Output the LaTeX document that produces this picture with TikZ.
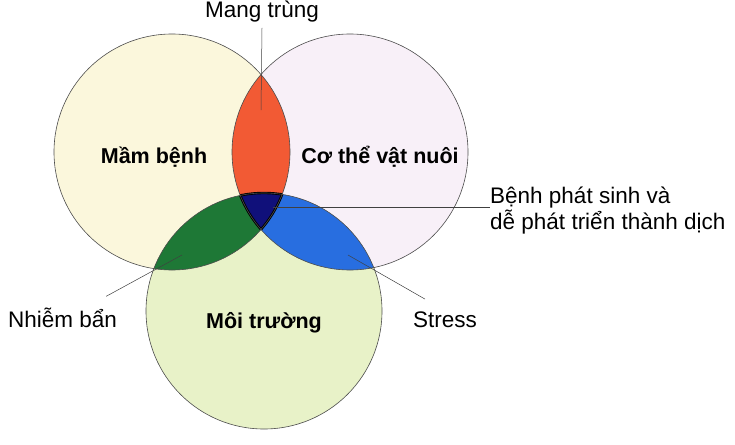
\documentclass[tikz,border=0pt]{standalone}
\usepackage{fontspec}
\setmainfont{Liberation Sans}
\usepackage{tikz}
\usetikzlibrary{positioning,calc}

\definecolor{germ}{RGB}{251,247,220}
\definecolor{host}{RGB}{248,240,248}
\definecolor{envir}{RGB}{232,242,200}
\definecolor{carrier}{RGB}{242,90,52}
\definecolor{dirt}{RGB}{30,120,54}
\definecolor{stressc}{RGB}{40,110,224}
\definecolor{outbreak}{RGB}{16,16,122}

\begin{document}
\begin{tikzpicture}[
  x=1pt, y=-1pt,
  ring/.style={circle, draw=black!70, line width=0.6pt, minimum size=236pt, inner sep=0pt},
  tag/.style={font=\fontsize{22.5}{26}\selectfont, inner sep=0pt},
  title/.style={font=\bfseries\fontsize{21.5}{26}\selectfont, inner sep=0pt},
  lead/.style={draw=black!75, line width=0.5pt},
]
\useasboundingbox (0,0) rectangle (735,444);

% Centres of the three discs
\coordinate (cL) at (172,152);
\coordinate (cR) at (350,152);
\coordinate (cB) at (264,311);

% Light fills of the discs
\fill[germ]  (cL) circle (118);
\fill[host]  (cR) circle (118);
\fill[envir] (cB) circle (118);

% Pairwise overlaps
\begin{scope}
  \clip (cL) circle (118);
  \fill[carrier] (cR) circle (118);
  \fill[dirt]    (cB) circle (118);
\end{scope}
\begin{scope}
  \clip (cR) circle (118);
  \fill[stressc] (cB) circle (118);
\end{scope}

% Triple overlap
\begin{scope}
  \clip (cL) circle (118);
  \clip (cR) circle (118);
  \fill[outbreak, draw=black, line width=2.4pt] (cB) circle (118);
\end{scope}
\begin{scope}
  \clip (cL) circle (118);
  \clip (cB) circle (118);
  \draw[black, line width=2.4pt] (cR) circle (118);
\end{scope}
\begin{scope}
  \clip (cR) circle (118);
  \clip (cB) circle (118);
  \draw[black, line width=2.4pt] (cL) circle (118);
\end{scope}

% Outlines of the discs
\node[ring] (L) at (cL) {};
\node[ring] (R) at (cR) {};
\node[ring] (B) at (cB) {};

% Disc names
\node[title, anchor=base] (germname) at (154,163) {Mầm bệnh};
\node[title, anchor=base] (hostname) at (380,163) {Cơ thể vật nuôi};
\node[title, anchor=base] (envname)  at (264,328) {Môi trường};

% Outer labels
\node[tag, anchor=base] (MT) at (262,18) {Mang trùng};
\node[tag, anchor=west, align=left] (BP) at (490,211)
  {Bệnh phát sinh và\\dễ phát triển thành dịch};
\node[tag, anchor=base west] (NB) at (8,327) {Nhiễm bẩn};
\node[tag, anchor=base west] (ST) at (413,327) {Stress};

% Leader lines
\coordinate (mtin) at (261,110);
\coordinate (bpin) at (273,207);
\coordinate (nbin) at (182,255);
\coordinate (stin) at (348,255);
\draw[lead] (mtin) -- ([yshift=-5pt]MT.south);
\draw[lead] (bpin) -- (bpin -| BP.west);
\draw[lead] (nbin) -- ([shift={(-11pt,11pt)}]NB.north east);
\draw[lead] (stin) -- ([shift={(12pt,12pt)}]ST.north west);

\end{tikzpicture}
\end{document}
